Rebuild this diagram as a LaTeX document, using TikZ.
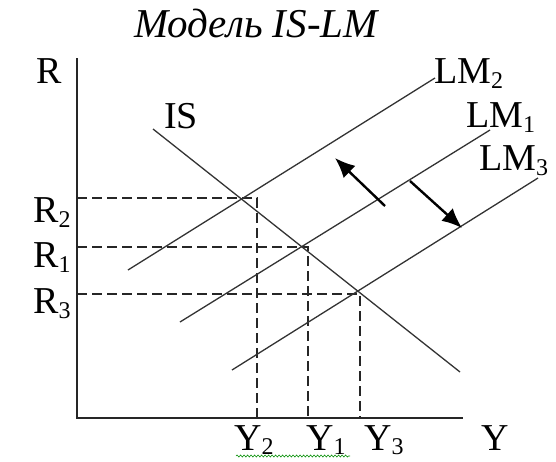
\documentclass[tikz,border=0pt]{standalone}
\usepackage{fontspec}
\setmainfont{Liberation Serif}
\usetikzlibrary{arrows.meta,decorations.pathmorphing}
\newcommand\lsub[1]{\raisebox{-5.5pt}{\fontsize{24}{24}\selectfont #1}}
\newcommand\ysub[1]{\raisebox{-4pt}{\fontsize{24}{24}\selectfont #1}}
\begin{document}
\begin{tikzpicture}[x=1pt,y=-1pt,
  lbl/.style={anchor=base west, inner sep=0pt, font=\fontsize{38}{40}\selectfont},
  ttl/.style={anchor=base, inner sep=0pt, font=\fontsize{41}{44}\selectfont\itshape},
  axis/.style={line width=1.8pt, black!85},
  curve/.style={line width=1.3pt, black!80},
  guide/.style={line width=1.8pt, black!85, dash pattern=on 10pt off 5pt},
  shiftarrow/.style={line width=2.4pt, -{Latex[length=20pt,width=17pt]}},
  squiggle/.style={line width=0.6pt, green!55!black, decorate, decoration={snake, amplitude=1pt, segment length=3.5pt}}]
\useasboundingbox (0,0) rectangle (556,461);
% axes
\coordinate (O) at (77,418);
\coordinate (Rtop) at (77,58);
\coordinate (Yend) at (463,418);
\draw[axis] (Rtop) -- (O) -- (Yend);
% equilibrium corners
\coordinate (E2) at (257,198);
\coordinate (E1) at (308,247);
\coordinate (E3) at (360,294);
\coordinate (R2a) at (77,198);
\coordinate (R1a) at (77,247);
\coordinate (R3a) at (77,294);
\coordinate (Y2a) at (257,418);
\coordinate (Y1a) at (308,418);
\coordinate (Y3a) at (360,418);
\draw[guide] (R2a) -- (E2) -- (Y2a);
\draw[guide] (R1a) -- (E1) -- (Y1a);
\draw[guide] (R3a) -- (E3) -- (Y3a);
% IS curve
\coordinate (IS1) at (153,129);
\coordinate (IS2) at (460,372);
\draw[curve] (IS1) -- (IS2);
% LM curves
\coordinate (LM2a) at (128,270);
\coordinate (LM2b) at (435,78);
\coordinate (LM1a) at (180,322);
\coordinate (LM1b) at (490,130);
\coordinate (LM3a) at (232,370);
\coordinate (LM3b) at (538,178);
\draw[curve] (LM2a) -- (LM2b);
\draw[curve] (LM1a) -- (LM1b);
\draw[curve] (LM3a) -- (LM3b);
% shift arrows
\coordinate (A1s) at (385,206);
\coordinate (A1e) at (335,158);
\coordinate (A2s) at (410,181);
\coordinate (A2e) at (462,228);
\draw[shiftarrow] (A1s) -- (A1e);
\draw[shiftarrow] (A2s) -- (A2e);
% labels
\node[ttl] (title) at (256,37) {Модель IS-LM};
\node[lbl] (R) at (36,83) {R};
\node[lbl] (R2) at (33,222) {R\lsub{2}};
\node[lbl] (R1) at (33,267) {R\lsub{1}};
\node[lbl] (R3) at (33,313) {R\lsub{3}};
\node[lbl] (IS) at (164,128) {IS};
\node[lbl] (Y2) at (234,450) {Y\ysub{2}};
\node[lbl] (Y1) at (306,450) {Y\ysub{1}};
\node[lbl] (Y3) at (364,450) {Y\ysub{3}};
\node[lbl] (Y) at (481,450) {Y};
\node[lbl] (LM2) at (434,83) {LM\lsub{2}};
\node[lbl] (LM1) at (466,127) {LM\lsub{1}};
\node[lbl] (LM3) at (479,170) {LM\lsub{3}};
% spell-check squiggle
\coordinate (Sq1) at (236,456);
\coordinate (Sq2) at (350,456);
\draw[squiggle] (Sq1) -- (Sq2);
\end{tikzpicture}
\end{document}
